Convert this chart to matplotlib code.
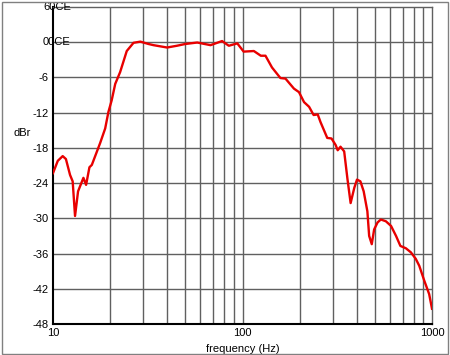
import matplotlib
matplotlib.use("Agg")
import matplotlib.pyplot as plt
from matplotlib.patches import Rectangle

# --- response curve ---
freq = [10.0, 10.6, 11.25, 11.7, 12.3, 12.7, 13.07, 13.56, 14.47, 14.95, 15.57, 16.03,
        17.72, 18.85, 19.6, 20.4, 21.3, 22.6, 24.5, 26.6, 28.9, 31.9, 33.9, 40.0,
        45.1, 49.9, 57.7, 67.8, 78.0, 84.7, 93.9, 101.4, 114.8, 124.9, 132.2, 143.1,
        158.5, 168.6, 186.8, 198.6, 211.2, 224.6, 237.3, 249.4, 258.0, 280.0, 295.0,
        310.0, 318.0, 329.0, 344.0, 358.0, 372.0, 389.0, 402.0, 419.0, 436.0, 456.0,
        466.0, 481.0, 495.0, 516.0, 537.0, 571.0, 608.0, 646.0, 681.0, 728.0, 774.0,
        821.0, 857.0, 910.0, 966.0, 1000.0]
level = [-22.3, -20.2, -19.4, -19.9, -22.6, -23.7, -29.6, -25.4, -23.1, -24.3, -21.3, -20.9,
         -17.2, -14.7, -11.9, -9.9, -7.1, -5.1, -1.5, -0.1, 0.1, -0.3, -0.5, -0.9,
         -0.6, -0.3, -0.05, -0.5, 0.2, -0.6, -0.2, -1.6, -1.5, -2.3, -2.3, -4.3,
         -6.1, -6.2, -7.9, -8.5, -10.2, -11.0, -12.4, -12.3, -13.6, -16.3, -16.4,
         -17.5, -18.4, -17.8, -18.6, -23.3, -27.4, -24.8, -23.4, -23.7, -25.4, -28.8,
         -33.0, -34.4, -31.9, -30.7, -30.2, -30.5, -31.3, -33.0, -34.7, -35.1, -35.8,
         -36.9, -38.1, -40.6, -42.9, -45.4]

y_ticks = [6, 0, -6, -12, -18, -24, -30, -36, -42, -48]
y_labels = ["", "", "-6", "-12", "-18", "-24", "-30", "-36", "-42", "-48"]
x_ticks = [10, 100, 1000]
x_labels = ["10", "100", "1000"]

plt.rcParams["font.family"] = ["Liberation Sans", "DejaVu Sans"]

fig = plt.figure(figsize=(4.5, 3.55), dpi=100)
ax = fig.add_axes([53 / 450, 31 / 355, 379 / 450, 317 / 355])

ax.set_xscale("log")
ax.set_xlim(10, 1000)
ax.set_ylim(-48, 6)

grid_col = "#606060"
minor_f = [f * d for d in (10, 100) for f in range(2, 10)]
for f in minor_f + [100]:
    ax.axvline(f, color=grid_col, lw=1.0, zorder=1)
for y in y_ticks[1:-1]:
    ax.axhline(y, color=grid_col, lw=1.0, zorder=1)

ax.plot(freq, level, color="#e80000", lw=1.7, zorder=3)

ax.set_yticks(y_ticks)
ax.set_yticklabels(y_labels, fontsize=8)
ax.set_xticks(x_ticks)
ax.set_xticklabels(x_labels, fontsize=8)
ax.minorticks_off()
ax.tick_params(length=0, pad=3)

# the two odd top labels overlap the axis line in the original
for y, txt in [(6, "60CE"), (0, "00CE")]:
    ax.annotate(txt, xy=(0, y), xycoords=("axes fraction", "data"),
                xytext=(-10, 0), textcoords="offset pixels",
                ha="left", va="center", fontsize=8)

ax.set_xlabel("frequency (Hz)", fontsize=8, labelpad=4)
fig.text(22 / 450, 1 - 133 / 355, "dBr", fontsize=8, ha="center", va="center")

for s in ["left", "bottom"]:
    ax.spines[s].set_color("black")
    ax.spines[s].set_linewidth(1.5)
for s in ["top", "right"]:
    ax.spines[s].set_color(grid_col)
    ax.spines[s].set_linewidth(1.0)

fig.patches.append(Rectangle((1.5 / 450, 1.5 / 355), 446 / 450, 352 / 355,
                             transform=fig.transFigure, fill=False,
                             edgecolor="#808080", lw=1.0))

fig.savefig("out.png", dpi=100)
